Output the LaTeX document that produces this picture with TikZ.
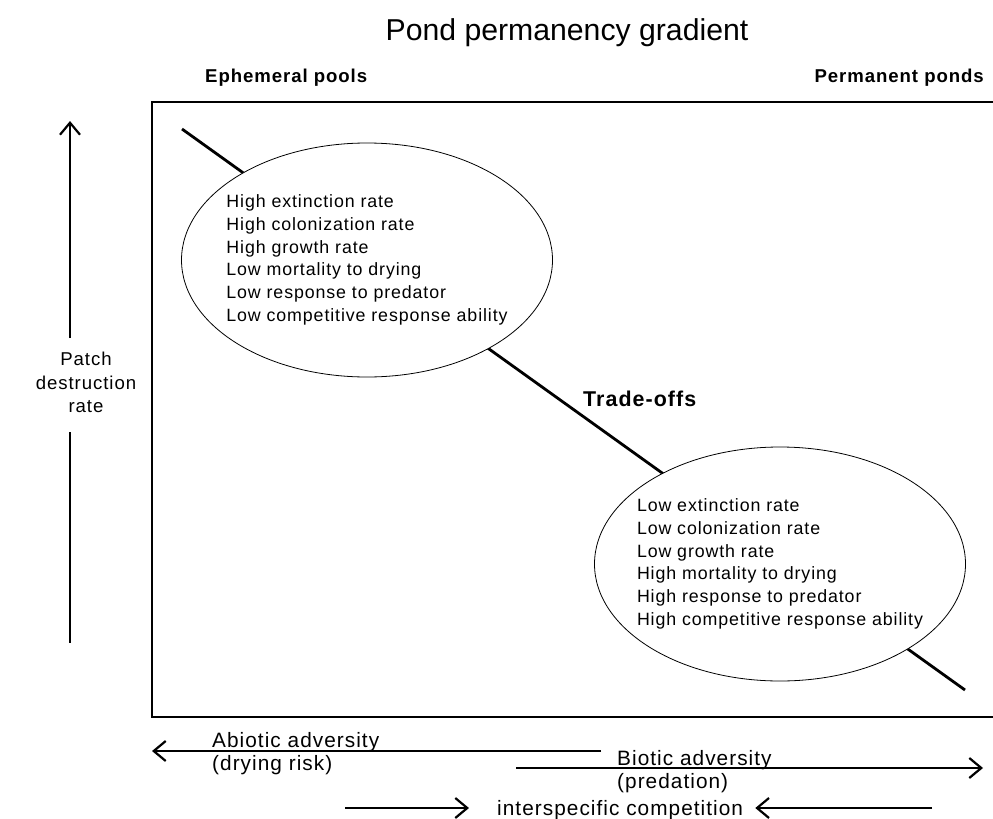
\documentclass[tikz,border=0pt]{standalone}
\usepackage{fontspec}
\setmainfont{Liberation Sans}
\newfontfamily\spaced[LetterSpace=5]{Liberation Sans}
\usetikzlibrary{shapes.geometric,arrows.meta}

\tikzset{
	trait/.style={ellipse, draw, line width=0.8pt, fill=white, minimum width=371pt, minimum height=234pt, inner sep=0pt},
	traittext/.style={align=left, inner sep=0pt, font=\spaced\fontsize{17.8}{22.7}\selectfont},
	barb/.style={-{Straight Barb[length=12pt,width=20pt]}, line width=2.2pt},
	head/.style={inner sep=0pt, font=\spaced\bfseries\fontsize{18.6}{20}\selectfont},
	axis/.style={inner sep=0pt, align=left, font=\spaced\fontsize{20.8}{23}\selectfont}
}

\begin{document}
\begin{tikzpicture}[x=1pt, y=-1pt]
	\clip (0,0) rectangle (993,819);
	%\draw [help lines, lightgray, step=50] (0,0) grid (993,819);

	\node[anchor=base, inner sep=0pt, font=\fontsize{30.2}{34}\selectfont] (title) at (567,40) {Pond permanency gradient};
	\node[head, anchor=base west] (ephem) at (205,82) {Ephemeral pools};
	\node[head, anchor=base east] (perm) at (984,82) {Permanent ponds};

	% frame (right side is off the page)
	\draw[line width=2.3pt] (1000,102) -- (152,102) -- (152,717) -- (1000,717);

	% trade-off line, behind the ellipses
	\coordinate (top) at (182,129);
	\coordinate (bot) at (965,690);
	\draw[line width=2.8pt] (top) -- (bot);

	\node[trait] (fast) at (367,260) {};
	\node[traittext] at (fast) {High extinction rate\\High colonization rate\\High growth rate\\Low mortality to drying\\Low response to predator\\Low competitive response ability};
	\node[trait] (slow) at (780,564) {};
	\node[traittext] at (slow) {Low extinction rate\\Low colonization rate\\Low growth rate\\High mortality to drying\\High response to predator\\High competitive response ability};

	\node[head, anchor=base west, font=\spaced\bfseries\fontsize{21.4}{24}\selectfont] (trade) at (583,406) {Trade-offs};

	% patch destruction axis
	\node[inner sep=0pt, align=center, anchor=north, font=\spaced\fontsize{18.6}{23.5}\selectfont] (patch) at (86,352) {Patch\\destruction\\rate};
	\coordinate (pup) at (70,338);
	\coordinate (ptip) at (70,121);
	\coordinate (plow) at (70,432);
	\coordinate (pend) at (70,643);
	\draw[barb] (pup) -- (ptip);
	\draw[line width=2.2pt] (plow) -- (pend);

	% adversity gradients
	\coordinate (abR) at (601,751);
	\coordinate (abL) at (152,751);
	\draw[barb] (abR) -- (abL);
	\node[axis, anchor=north west] (abio) at (212,732.5) {Abiotic adversity\\(drying risk)};

	\coordinate (biL) at (516,768);
	\coordinate (biR) at (983,768);
	\draw[barb] (biL) -- (biR);
	\node[axis, anchor=north west] (bio) at (617,750.5) {Biotic adversity\\(predation)};

	\node[axis, anchor=base west] (comp) at (497,815) {interspecific competition};
	\coordinate (cL) at (345,808);
	\coordinate (cR) at (932,808);
	\draw[barb, shorten >=28pt] (cL) -- (cL -| comp.west);
	\draw[barb, shorten >=12pt] (cR) -- (cR -| comp.east);
\end{tikzpicture}
\end{document}
